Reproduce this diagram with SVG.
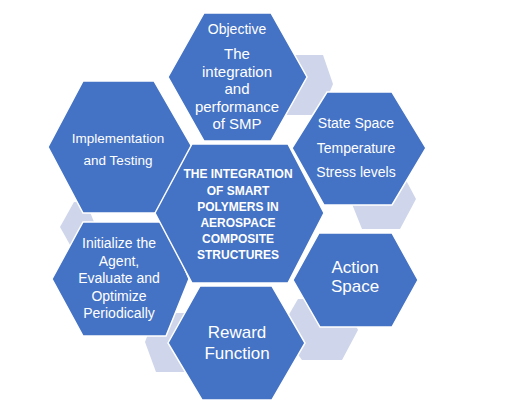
<svg xmlns="http://www.w3.org/2000/svg" width="509" height="417" viewBox="0 0 509 417">
<style>
.hex{fill:#4472C4;stroke:#FFFFFF;stroke-width:1.5;stroke-linejoin:miter}
.acc{fill:#CFD5EA;stroke:none}
text{font-family:"Liberation Sans",Arial,sans-serif;fill:#FFFFFF;text-anchor:middle}
.t13{font-size:13.5px}
.t14{font-size:14px}
.t15{font-size:15px}
.t17{font-size:17px}
.tb{font-size:12px;font-weight:bold}
</style>
<rect width="509" height="417" fill="#FFFFFF"/>
<g id="connectors">
<polygon class="acc" points="270,84 290,55 323,55 333,84 320,115 287,115"/>
<polygon class="acc" points="350,199 366,169 400,169 416,199 400,229 362,229"/>
<polygon class="acc" points="60,227 74,202 86,202 96,227 86,252 74,252"/>
<polygon class="acc" points="145,342 156,313 200,313 210,342 200,372 156,372"/>
<polygon class="acc" points="280,330 298,299 342,299 358,330 342,360 302,360"/>
</g>
<g id="objective">
<polygon class="hex" points="168,77 204,13 271,13 307,77 271,141 204,141"/>
<text class="t14" x="237" y="34">Objective</text>
<text class="t15" x="237" y="59">The</text>
<text class="t15" x="237" y="77">integration</text>
<text class="t15" x="237" y="94">and</text>
<text class="t15" x="237" y="112">performance</text>
<text class="t15" x="237" y="129">of SMP</text>
</g>
<g id="state-space">
<polygon class="hex" points="292,148 327,92 392,92 426,148 392,205 324,205"/>
<text class="t14" x="356" y="128">State Space</text>
<text class="t14" x="356" y="153">Temperature</text>
<text class="t14" x="356" y="177">Stress levels</text>
</g>
<g id="implementation">
<polygon class="hex" points="48,147 83,81 154,81 192,147 156,213 83,213"/>
<text class="t13" x="118" y="143">Implementation</text>
<text class="t13" x="118" y="165">and Testing</text>
</g>
<g id="initialize">
<polygon class="hex" points="52,279 83,222 165,222 189,279 166,336 83,336"/>
<text class="t14" x="119" y="248">Initialize the</text>
<text class="t14" x="119" y="265.5">Agent,</text>
<text class="t14" x="119" y="283">Evaluate and</text>
<text class="t14" x="119" y="300.5">Optimize</text>
<text class="t14" x="119" y="318">Periodically</text>
</g>
<g id="action-space">
<polygon class="hex" points="293,280 319,233 392,233 418,280 392,327 320,327"/>
<text class="t17" x="355" y="273">Action</text>
<text class="t17" x="355" y="292">Space</text>
</g>
<g id="reward-function">
<polygon class="hex" points="168,343 200,286 272,286 305,343 272,400 202,400"/>
<text class="t17" x="237" y="338">Reward</text>
<text class="t17" x="237" y="359">Function</text>
</g>
<g id="central">
<polygon class="hex" points="155,213 192,144 288,144 324,213 288,283 192,283"/>
<text class="tb" x="238" y="177.5">THE INTEGRATION</text>
<text class="tb" x="238" y="195">OF SMART</text>
<text class="tb" x="238" y="211">POLYMERS IN</text>
<text class="tb" x="238" y="226.5">AEROSPACE</text>
<text class="tb" x="238" y="242.5">COMPOSITE</text>
<text class="tb" x="238" y="258.5">STRUCTURES</text>
</g>
</svg>
